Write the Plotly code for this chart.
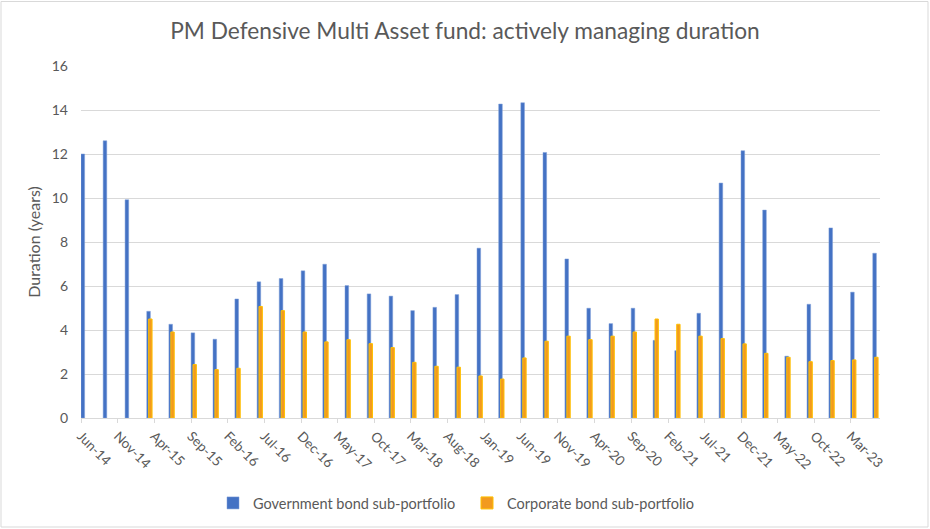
import plotly.graph_objects as go
import pandas as pd

# Quarterly observation dates (Jun-14 .. Jun-23)
dates = [
    "2014-06-01", "2014-09-01", "2014-12-01",
    "2015-03-01", "2015-06-01", "2015-09-01", "2015-12-01",
    "2016-03-01", "2016-06-01", "2016-09-01", "2016-12-01",
    "2017-03-01", "2017-06-01", "2017-09-01", "2017-12-01",
    "2018-03-01", "2018-06-01", "2018-09-01", "2018-12-01",
    "2019-03-01", "2019-06-01", "2019-09-01", "2019-12-01",
    "2020-03-01", "2020-06-01", "2020-09-01", "2020-12-01",
    "2021-03-01", "2021-06-01", "2021-09-01", "2021-12-01",
    "2022-03-01", "2022-06-01", "2022-09-01", "2022-12-01",
    "2023-03-01", "2023-06-01",
]

government = [12.0, 12.6, 9.92, 4.85, 4.26, 3.87, 3.58, 5.41, 6.19, 6.34,
              6.69, 6.99, 6.02, 5.64, 5.54, 4.88, 5.03, 5.61, 7.72, 14.27,
              14.33, 12.07, 7.23, 4.99, 4.29, 4.99, 3.53, 3.06, 4.76, 10.68,
              12.15, 9.45, 2.81, 5.17, 8.64, 5.72, 7.49]

corporate = [None, None, None, 4.5, 3.91, 2.43, 2.2, 2.26, 5.07, 4.88,
             3.91, 3.46, 3.56, 3.38, 3.2, 2.53, 2.35, 2.31, 1.91, 1.77,
             2.73, 3.49, 3.72, 3.56, 3.72, 3.91, 4.5, 4.26, 3.72, 3.61,
             3.37, 2.94, 2.76, 2.56, 2.61, 2.64, 2.76]

tick_labels = ["Jun-14", "Nov-14", "Apr-15", "Sep-15", "Feb-16", "Jul-16",
               "Dec-16", "May-17", "Oct-17", "Mar-18", "Aug-18", "Jan-19",
               "Jun-19", "Nov-19", "Apr-20", "Sep-20", "Feb-21", "Jul-21",
               "Dec-21", "May-22", "Oct-22", "Mar-23"]

y_ticks = [0, 2, 4, 6, 8, 10, 12, 14, 16]

tick_vals = [pd.to_datetime(t, format="%b-%y") for t in tick_labels]
DAY = 86400000

FONT = "Lato"
GREY = "#595959"

fig = go.Figure()
fig.add_trace(go.Bar(
    x=dates, y=government, name="Government bond sub-portfolio",
    marker=dict(color="#4472C4", line=dict(color="#7F9FD8", width=0.5)),
    width=15 * DAY, offset=0,
))
fig.add_trace(go.Bar(
    x=dates, y=corporate, name="Corporate bond sub-portfolio",
    marker=dict(color="#F29A1F", line=dict(color="#FFC000", width=1)),
    width=14 * DAY, offset=8 * DAY,
))

L, R, T, B = 81, 880, 66, 418
W, H = 930, 529

def px_x(p):
    return (p - L) / (R - L)

def px_y(p):
    return (B - p) / (B - T)

fig.update_layout(
    width=W, height=H,
    margin=dict(l=L, r=W - R, t=T, b=H - B, autoexpand=False),
    paper_bgcolor="white", plot_bgcolor="white",
    font=dict(family=FONT, color=GREY, size=13),
    title=dict(text="PM Defensive Multi Asset fund: actively managing duration",
               x=0.5, xanchor="center", y=1 - 31 / H, yanchor="middle",
               font=dict(size=22.7, color=GREY, family=FONT)),
    barmode="overlay",
    showlegend=True,
    legend=dict(orientation="h", x=px_x(213), xanchor="left",
                y=px_y(503), yanchor="middle",
                font=dict(size=14.5, color=GREY, family=FONT),
                itemwidth=30, traceorder="normal",
                entrywidth=209, entrywidthmode="pixels"),
    xaxis=dict(
        type="date", automargin=False,
        range=["2014-06-01", "2023-07-01"],
        tickvals=tick_vals, ticktext=tick_labels,
        tickangle=45,
        showgrid=False,
        showline=True, linecolor="#D9D9D9", linewidth=1,
        ticks="outside", ticklen=4, tickcolor="#D9D9D9",
        tickfont=dict(size=13.5, color=GREY, family=FONT),
    ),
    yaxis=dict(
        range=[0, 16], automargin=False,
        tickvals=y_ticks,
        showgrid=True, gridcolor="#D9D9D9", gridwidth=1,
        zeroline=False, showline=False,
        ticklabelstandoff=12,
        tickfont=dict(size=14, color=GREY, family=FONT),
        title=dict(text="Duration (years)", standoff=7,
                   font=dict(size=16, color=GREY, family=FONT)),
    ),
    shapes=[dict(type="rect", xref="paper", yref="paper",
                 x0=px_x(1), x1=px_x(928), y0=px_y(527), y1=px_y(1.5),
                 line=dict(color="#D9D9D9", width=1), fillcolor="rgba(0,0,0,0)",
                 layer="below")],
)

fig.write_html("out.html",
               config={"displayModeBar": False},
               post_script="document.body.style.margin='0';")
